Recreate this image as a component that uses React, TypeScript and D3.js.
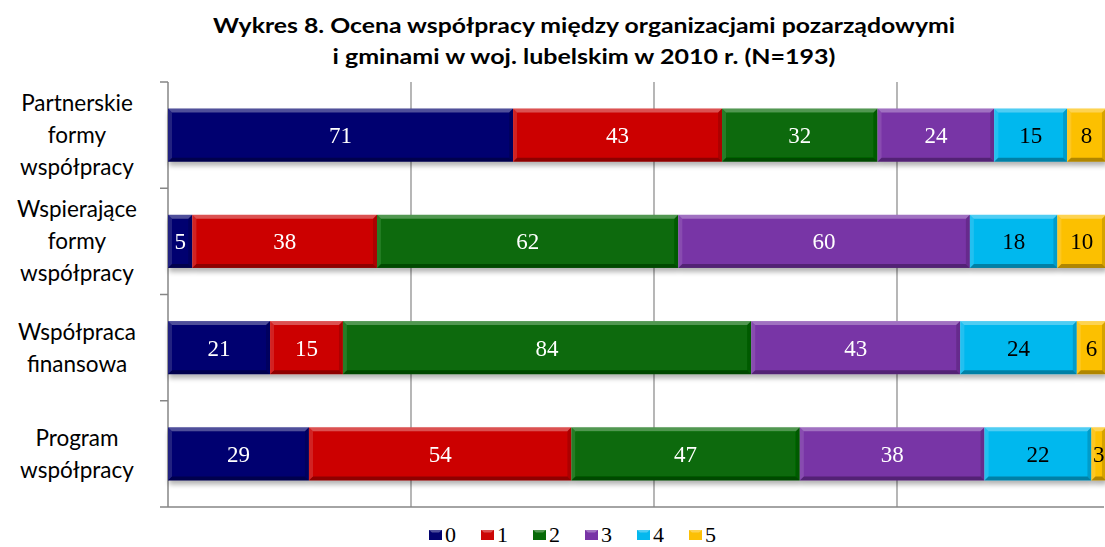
import React from "react";
import * as d3 from "d3";

const categories = [
  ["Partnerskie", "formy", "współpracy"],
  ["Wspierające", "formy", "współpracy"],
  ["Współpraca", "finansowa"],
  ["Program", "współpracy"],
];
const seriesNames = ["0", "1", "2", "3", "4", "5"];
const values = [
  [71, 43, 32, 24, 15, 8],
  [5, 38, 62, 60, 18, 10],
  [21, 15, 84, 43, 24, 6],
  [29, 54, 47, 38, 22, 3],
];
const colors = ["#03036f", "#cc0606", "#076a07", "#7834a6", "#05b8ee", "#fcc006"];
const labelColors = ["#fff", "#fff", "#fff", "#fff", "#000", "#000"];
const gridTicks = [50, 100, 150];

const W = 1105;
const H = 547;

export default function App() {
  const x = d3.scaleLinear().domain([0, 200]).range([168, 1140]);
  const y = d3.scaleBand<number>().domain(d3.range(categories.length)).range([82, 507]).paddingInner(0.5).paddingOuter(0.25);
  const stacked = values.map((row) => {
    let acc = 0;
    return row.map((v) => {
      const s = acc;
      acc += v;
      return [s, acc];
    });
  });
  const bev = 4;
  const sans = "Lato, 'Open Sans', sans-serif";
  return (
    <svg width={W} height={H} style={{ position: "absolute", left: 0, top: 0, background: "#fff" }}>
      <defs>
        <filter id="sh" x="-5%" y="-30%" width="110%" height="170%">
          <feGaussianBlur in="SourceAlpha" stdDeviation="2.5" />
          <feOffset dx="1" dy="4" result="b" />
          <feComponentTransfer><feFuncA type="linear" slope="0.3" /></feComponentTransfer>
          <feMerge><feMergeNode /><feMergeNode in="SourceGraphic" /></feMerge>
        </filter>
      </defs>
      <text x={584} y={33} textAnchor="middle" fontFamily={sans} fontWeight="bold" fontSize={21} textLength={742} lengthAdjust="spacingAndGlyphs" fill="#000">
        Wykres 8. Ocena współpracy między organizacjami pozarządowymi
      </text>
      <text x={584} y={64} textAnchor="middle" fontFamily={sans} fontWeight="bold" fontSize={21} textLength={503} lengthAdjust="spacingAndGlyphs" fill="#000">
        i gminami w woj. lubelskim w 2010 r. (N=193)
      </text>
      {gridTicks.map((t) => (
        <line key={t} x1={x(t)} x2={x(t)} y1={82} y2={507} stroke="#868686" strokeWidth={1.2} />
      ))}
      <line x1={168} x2={1104} y1={507} y2={507} stroke="#868686" strokeWidth={1.5} />
      <line x1={168} x2={168} y1={82} y2={507} stroke="#868686" strokeWidth={1.5} />
      {d3.range(categories.length + 1).map((i) => (
        <line key={i} x1={160} x2={168} y1={82 + i * ((507 - 82) / categories.length)} y2={82 + i * ((507 - 82) / categories.length)} stroke="#868686" strokeWidth={1.5} />
      ))}
      {categories.map((lines, i) => {
        const cy = 82 + (i + 0.5) * ((507 - 82) / categories.length);
        const lh = 32;
        const y0 = cy - ((lines.length - 1) * lh) / 2;
        return (
          <text key={i} textAnchor="middle" fontFamily={sans} fontSize={22.5} fill="#000">
            {lines.map((l, j) => (
              <tspan key={j} x={77} y={y0 + j * lh + 8}>{l}</tspan>
            ))}
          </text>
        );
      })}
      {values.map((row, i) => {
        const by = y(i)!;
        const bh = y.bandwidth();
        return (
          <g key={i} filter="url(#sh)">
            {row.map((v, k) => {
              const x0 = x(stacked[i][k][0]);
              const x1 = x(stacked[i][k][1]);
              const w = x1 - x0;
              const b = Math.min(bev, w / 2);
              return (
                <g key={k}>
                  <rect x={x0} y={by} width={w} height={bh} fill={colors[k]} />
                  <polygon points={`${x0},${by} ${x1},${by} ${x1 - b},${by + b} ${x0 + b},${by + b}`} fill="#fff" opacity={0.3} />
                  <polygon points={`${x0},${by} ${x0 + b},${by + b} ${x0 + b},${by + bh - b} ${x0},${by + bh}`} fill="#fff" opacity={0.12} />
                  <polygon points={`${x1},${by} ${x1 - b},${by + b} ${x1 - b},${by + bh - b} ${x1},${by + bh}`} fill="#000" opacity={0.15} />
                  <polygon points={`${x0},${by + bh} ${x0 + b},${by + bh - b} ${x1 - b},${by + bh - b} ${x1},${by + bh}`} fill="#000" opacity={0.3} />
                  <text x={(x0 + x1) / 2} y={by + bh / 2 + 8} textAnchor="middle" fontFamily="'Liberation Serif', 'Times New Roman', serif" fontSize={23} fill={labelColors[k]}>
                    {v}
                  </text>
                </g>
              );
            })}
          </g>
        );
      })}
      {seriesNames.map((s, k) => {
        const lx = 429 + k * 52;
        return (
          <g key={s}>
            <rect x={lx} y={530} width={13} height={10} fill={colors[k]} />
            <polygon points={`${lx},530 ${lx + 13},530 ${lx + 10},532.5 ${lx + 3},532.5`} fill="#fff" opacity={0.3} />
            <text x={lx + 16} y={542} fontFamily="'Liberation Serif', 'Times New Roman', serif" fontSize={22} fill="#000">{s}</text>
          </g>
        );
      })}
    </svg>
  );
}
